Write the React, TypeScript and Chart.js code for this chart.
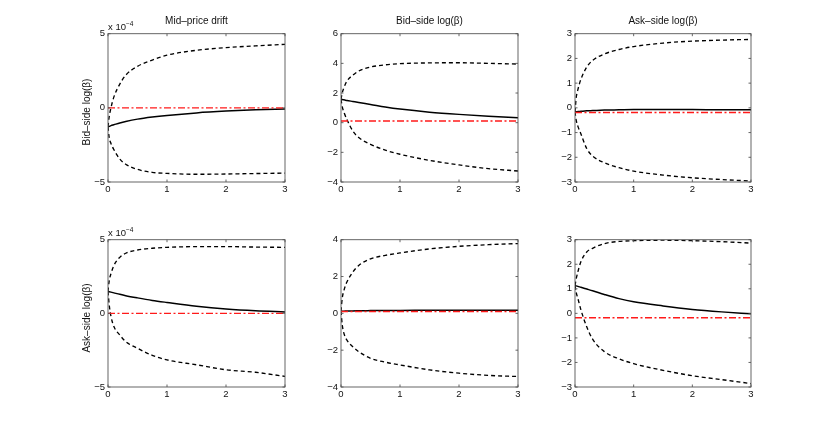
import { useEffect, useRef } from "react";
import { Chart, registerables } from "chart.js";

Chart.register(...registerables);

// time grid shared by every panel
const xs = [0, 0.02, 0.05, 0.1, 0.2, 0.3, 0.5, 0.75, 1, 1.5, 2, 2.5, 3];
const refX = [0, 3];

// top row: bid side shock (mid drift in units of 1e-4)
const bidMidMean = [-1.28, -1.25, -1.2, -1.14, -1.02, -0.92, -0.76, -0.62, -0.51, -0.34, -0.22, -0.13, -0.07];
const bidMidUpper = [-1.28, -0.6, 0.0, 0.74, 1.6, 2.2, 2.8, 3.22, 3.55, 3.88, 4.06, 4.18, 4.28];
const bidMidLower = [-1.28, -2.0, -2.4, -2.82, -3.45, -3.8, -4.15, -4.35, -4.42, -4.48, -4.46, -4.43, -4.4];
const bidMidRef = [0, 0];

const bidBidMean = [1.57, 1.56, 1.54, 1.5, 1.43, 1.36, 1.23, 1.06, 0.92, 0.71, 0.56, 0.44, 0.34];
const bidBidUpper = [1.57, 2.0, 2.36, 2.8, 3.2, 3.48, 3.75, 3.9, 3.98, 4.03, 4.04, 4.0, 3.95];
const bidBidLower = [1.57, 1.1, 0.7, 0.22, -0.56, -1.0, -1.46, -1.85, -2.13, -2.54, -2.85, -3.1, -3.26];
const bidBidRef = [0.11, 0.11];

const bidAskMean = [-0.16, -0.16, -0.15, -0.14, -0.12, -0.11, -0.09, -0.08, -0.07, -0.07, -0.07, -0.08, -0.08];
const bidAskUpper = [-0.16, 0.4, 0.75, 1.15, 1.65, 1.92, 2.18, 2.36, 2.48, 2.62, 2.7, 2.74, 2.77];
const bidAskLower = [-0.16, -0.5, -0.75, -1.05, -1.65, -1.95, -2.22, -2.42, -2.56, -2.72, -2.83, -2.9, -2.96];
const bidAskRef = [-0.19, -0.19];

// bottom row: ask side shock
const askMidMean = [1.49, 1.47, 1.44, 1.39, 1.29, 1.2, 1.05, 0.88, 0.74, 0.48, 0.29, 0.17, 0.1];
const askMidUpper = [1.49, 2.2, 2.69, 3.25, 3.8, 4.08, 4.3, 4.42, 4.48, 4.53, 4.53, 4.5, 4.48];
const askMidLower = [1.49, 0.6, -0.2, -0.9, -1.47, -1.92, -2.37, -2.85, -3.16, -3.49, -3.83, -4.0, -4.28];
const askMidRef = [0, 0];

const askBidMean = [0.12, 0.12, 0.12, 0.13, 0.13, 0.14, 0.15, 0.16, 0.16, 0.17, 0.17, 0.17, 0.17];
const askBidUpper = [0.12, 0.8, 1.25, 1.7, 2.24, 2.6, 2.96, 3.15, 3.28, 3.5, 3.64, 3.73, 3.79];
const askBidLower = [0.12, -0.6, -1.09, -1.45, -1.81, -2.08, -2.44, -2.65, -2.8, -3.07, -3.25, -3.37, -3.43];
const askBidRef = [0.1, 0.1];

const askAskMean = [1.13, 1.12, 1.1, 1.06, 0.99, 0.92, 0.77, 0.6, 0.47, 0.3, 0.16, 0.06, -0.02];
const askAskUpper = [1.13, 1.4, 1.7, 2.1, 2.5, 2.65, 2.84, 2.93, 2.96, 2.98, 2.96, 2.92, 2.86];
const askAskLower = [1.13, 0.85, 0.6, 0.15, -0.55, -1.05, -1.56, -1.85, -2.05, -2.32, -2.54, -2.7, -2.86];
const askAskRef = [-0.18, -0.18];

const FONT = "'Liberation Sans', Arial, sans-serif";
const TICK_SIZE = 9.5;
const LABEL_SIZE = 10;

const boxPlugin = {
  id: "matlabBox",
  afterDraw(chart: any) {
    const { ctx, chartArea: a, scales } = chart;
    const len = 2.5;
    ctx.save();
    ctx.strokeStyle = "#555";
    ctx.lineWidth = 0.9;
    ctx.strokeRect(a.left, a.top, a.right - a.left, a.bottom - a.top);
    ctx.beginPath();
    scales.x.ticks.forEach((t: any) => {
      const px = scales.x.getPixelForValue(t.value);
      ctx.moveTo(px, a.bottom);
      ctx.lineTo(px, a.bottom - len);
      ctx.moveTo(px, a.top);
      ctx.lineTo(px, a.top + len);
    });
    scales.y.ticks.forEach((t: any) => {
      const py = scales.y.getPixelForValue(t.value);
      ctx.moveTo(a.left, py);
      ctx.lineTo(a.left + len, py);
      ctx.moveTo(a.right, py);
      ctx.lineTo(a.right - len, py);
    });
    ctx.stroke();
    ctx.restore();
  },
};

type PanelProps = {
  left: number;
  top: number;
  width: number;
  height: number;
  mean: number[];
  upper: number[];
  lower: number[];
  refLevel: number[];
  yMin: number;
  yMax: number;
  yStep: number;
};

const PAD_L = 32;
const PAD_T = 8;
const PAD_R = 8;
const PAD_B = 18;

function Panel(p: PanelProps) {
  const ref = useRef<HTMLCanvasElement>(null);

  useEffect(() => {
    if (!ref.current) return;
    const pts = (arr: number[]) => xs.map((x, i) => ({ x, y: arr[i] }));
    const chart = new Chart(ref.current, {
      type: "line",
      data: {
        datasets: [
          {
            data: refX.map((x, i) => ({ x, y: p.refLevel[i] })),
            borderColor: "#ff1a1a",
            borderWidth: 1.4,
            borderDash: [7, 2.5, 2, 2.5],
            pointRadius: 0,
            order: 0,
          },
          {
            data: pts(p.upper),
            borderColor: "#000",
            borderWidth: 1.35,
            borderDash: [4, 3],
            pointRadius: 0,
            cubicInterpolationMode: "monotone",
            order: 1,
          },
          {
            data: pts(p.lower),
            borderColor: "#000",
            borderWidth: 1.35,
            borderDash: [4, 3],
            pointRadius: 0,
            cubicInterpolationMode: "monotone",
            order: 1,
          },
          {
            data: pts(p.mean),
            borderColor: "#000",
            borderWidth: 1.5,
            pointRadius: 0,
            cubicInterpolationMode: "monotone",
            order: 2,
          },
        ],
      },
      options: {
        animation: false,
        responsive: false,
        maintainAspectRatio: false,
        layout: { padding: { left: 0, top: PAD_T, right: PAD_R, bottom: 0 } },
        plugins: { legend: { display: false }, tooltip: { enabled: false } },
        scales: {
          x: {
            type: "linear",
            min: 0,
            max: 3,
            grid: { display: false, drawTicks: false },
            border: { display: false },
            ticks: { stepSize: 1, padding: 2, color: "#111", font: { family: FONT, size: TICK_SIZE } },
            afterFit: (s: any) => {
              s.height = PAD_B;
            },
          },
          y: {
            min: p.yMin,
            max: p.yMax,
            grid: { display: false, drawTicks: false },
            border: { display: false },
            ticks: {
              stepSize: p.yStep,
              padding: 3,
              color: "#111",
              font: { family: FONT, size: TICK_SIZE },
              callback: (v: any) => String(v).replace("-", "\u2212"),
            },
            afterFit: (s: any) => {
              s.width = PAD_L;
            },
          },
        },
      },
      plugins: [boxPlugin],
    });
    return () => {
      chart.destroy();
    };
  }, []);

  const w = p.width + PAD_L + PAD_R;
  const h = p.height + PAD_T + PAD_B;
  return (
    <canvas
      ref={ref}
      width={w}
      height={h}
      style={{ position: "absolute", left: p.left - PAD_L, top: p.top - PAD_T, width: w, height: h }}
    />
  );
}

const textStyle = {
  position: "absolute" as const,
  fontFamily: FONT,
  fontSize: LABEL_SIZE,
  color: "#111",
  whiteSpace: "nowrap" as const,
  lineHeight: "12px",
};

function Title({ cx, cy, text }: { cx: number; cy: number; text: string }) {
  return <div style={{ ...textStyle, left: cx, top: cy, transform: "translate(-50%, -50%)" }}>{text}</div>;
}

function YLabel({ cx, cy, text }: { cx: number; cy: number; text: string }) {
  return (
    <div style={{ ...textStyle, left: cx, top: cy, transform: "translate(-50%, -50%) rotate(-90deg)" }}>{text}</div>
  );
}

function Multiplier({ left, top }: { left: number; top: number }) {
  return (
    <div style={{ ...textStyle, left, top, fontSize: 9.5, lineHeight: "10px" }}>
      x 10<span style={{ fontSize: 6.5, position: "relative", top: -4 }}>{"\u22124"}</span>
    </div>
  );
}

export default function App() {
  const cols = [108, 341, 575];
  const widths = [177, 177, 176];
  const rowTop = [33, 239];
  const rowH = [149, 148];
  return (
    <div style={{ position: "fixed", left: 0, top: 0, width: 830, height: 436, background: "#fff" }}>
      <Panel left={cols[0]} top={rowTop[0]} width={widths[0]} height={rowH[0]} mean={bidMidMean} upper={bidMidUpper} lower={bidMidLower} refLevel={bidMidRef} yMin={-5} yMax={5} yStep={5} />
      <Panel left={cols[1]} top={rowTop[0]} width={widths[1]} height={rowH[0]} mean={bidBidMean} upper={bidBidUpper} lower={bidBidLower} refLevel={bidBidRef} yMin={-4} yMax={6} yStep={2} />
      <Panel left={cols[2]} top={rowTop[0]} width={widths[2]} height={rowH[0]} mean={bidAskMean} upper={bidAskUpper} lower={bidAskLower} refLevel={bidAskRef} yMin={-3} yMax={3} yStep={1} />
      <Panel left={cols[0]} top={rowTop[1]} width={widths[0]} height={rowH[1]} mean={askMidMean} upper={askMidUpper} lower={askMidLower} refLevel={askMidRef} yMin={-5} yMax={5} yStep={5} />
      <Panel left={cols[1]} top={rowTop[1]} width={widths[1]} height={rowH[1]} mean={askBidMean} upper={askBidUpper} lower={askBidLower} refLevel={askBidRef} yMin={-4} yMax={4} yStep={2} />
      <Panel left={cols[2]} top={rowTop[1]} width={widths[2]} height={rowH[1]} mean={askAskMean} upper={askAskUpper} lower={askAskLower} refLevel={askAskRef} yMin={-3} yMax={3} yStep={1} />

      <Title cx={196.5} cy={21} text={"Mid\u2013price drift"} />
      <Title cx={429.5} cy={21} text={"Bid\u2013side log(\u03b2)"} />
      <Title cx={663} cy={21} text={"Ask\u2013side log(\u03b2)"} />

      <YLabel cx={87} cy={112} text={"Bid\u2013side log(\u03b2)"} />
      <YLabel cx={87} cy={318} text={"Ask\u2013side log(\u03b2)"} />

      <Multiplier left={108} top={22} />
      <Multiplier left={108} top={228} />
    </div>
  );
}
